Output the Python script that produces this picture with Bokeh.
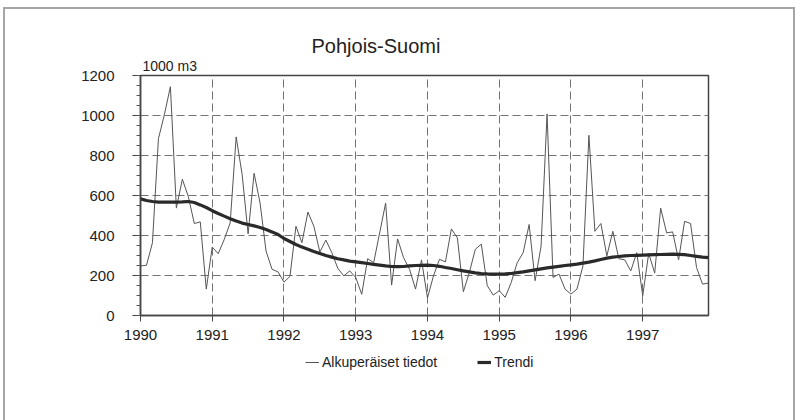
from bokeh.plotting import figure
from bokeh.layouts import column
from bokeh.models import FixedTicker, Range1d, Legend, LegendItem, ColumnDataSource, Title
from bokeh.embed import file_html
from bokeh.resources import INLINE

years = [1990, 1991, 1992, 1993, 1994, 1995, 1996, 1997]
year_labels = ["1990", "1991", "1992", "1993", "1994", "1995", "1996", "1997"]
y_ticks = [0, 200, 400, 600, 800, 1000, 1200]

# monthly values, 1000 m3, Jan 1990 .. Dec 1997
original = [
    248, 251, 364, 884, 1005, 1144, 537, 681, 595, 460, 468, 132,
    342, 309, 380, 463, 893, 705, 408, 711, 562, 322, 231, 218,
    167, 196, 446, 364, 517, 446, 317, 377, 314, 236, 198, 223,
    190, 106, 284, 264, 413, 562, 152, 383, 289, 231, 132, 278,
    88, 198, 281, 268, 433, 388, 119, 215, 331, 357, 149, 102,
    124, 91, 165, 264, 314, 455, 174, 347, 1008, 190, 207, 132,
    107, 132, 248, 901, 421, 460, 298, 421, 284, 278, 223, 314,
    99, 311, 212, 537, 413, 418, 278, 471, 460, 240, 157, 162,
]
trend = [
    583, 575, 570, 567, 567, 567, 567, 568, 570, 565, 553, 540,
    524, 510, 497, 484, 472, 462, 455, 448, 440, 430, 418, 405,
    385, 370, 355, 342, 331, 320, 310, 300, 292, 284, 278, 272,
    268, 264, 260, 256, 252, 248, 245, 244, 245, 248, 250, 251,
    252, 250, 246, 240, 235, 229, 223, 218, 213, 210, 208, 207,
    207, 208, 210, 214, 218, 223, 228, 233, 238, 242, 246, 250,
    253, 257, 262, 267, 273, 280, 287, 292, 295, 298, 300, 301,
    302, 303, 304, 305, 306, 307, 306, 304, 300, 296, 292, 289,
]
t = [1990 + i / 12 for i in range(len(original))]
legend_labels = ["Alkuperäiset tiedot", "Trendi"]

FONT = "Liberation Sans"
ORIG_STYLE = dict(line_color="#555555", line_width=1)
TREND_STYLE = dict(line_color="#2a2a2a", line_width=3.2)

src = ColumnDataSource(dict(t=t, orig=original, trend=trend))

p = figure(frame_width=568, frame_height=240, output_backend="svg", toolbar_location=None,
           x_range=Range1d(1990, t[-1]), y_range=Range1d(0, 1200),
           min_border_left=137, min_border_top=68, min_border_right=87, min_border_bottom=30)
p.border_fill_color = None
p.background_fill_color = "white"
p.outline_line_color = "#444444"
p.outline_line_width = 1.5

p.line("t", "orig", source=src, **ORIG_STYLE)
p.line("t", "trend", source=src, **TREND_STYLE)

xa = p.xaxis[0]
xa.ticker = FixedTicker(ticks=years, minor_ticks=[])
xa.major_label_overrides = {y: l for y, l in zip(years, year_labels)}
xa.major_tick_out = 6
xa.major_tick_in = 0
xa.minor_tick_out = 0
xa.major_label_standoff = 8
ya = p.yaxis[0]
ya.ticker = FixedTicker(ticks=y_ticks, minor_ticks=list(range(0, 1201, 50)))
ya.major_tick_out = 8
ya.major_tick_in = 0
ya.minor_tick_out = 4
ya.minor_tick_in = 0
ya.major_label_standoff = 18
for ax in (xa, ya):
    ax.axis_line_color = "#444444"
    ax.axis_line_width = 1.5
    ax.major_tick_line_color = "#444444"
    ax.minor_tick_line_color = "#555555"
    ax.major_label_text_font = FONT
    ax.major_label_text_font_size = "15px"
    ax.major_label_text_color = "#222222"

for g in (p.xgrid[0], p.ygrid[0]):
    g.grid_line_color = "#737373"
    g.grid_line_dash = "8 4"
    g.grid_line_width = 1
p.xgrid[0].ticker = FixedTicker(ticks=years)
p.ygrid[0].ticker = FixedTicker(ticks=y_ticks)

p.add_layout(Title(text="1000 m3", align="left", offset=2, standoff=4,
                   text_font=FONT, text_font_size="14px", text_font_style="normal",
                   text_color="#222222"), "above")
p.add_layout(Title(text="Pohjois-Suomi", align="left", offset=171, standoff=-6,
                   text_font=FONT, text_font_size="20px", text_font_style="normal",
                   text_color="#222222"), "above")

# legend strip below the chart: same series, plotted out of view, only its legend shows
p2 = figure(width=792, height=75, output_backend="svg", toolbar_location=None,
            x_axis_type=None, y_axis_type=None, min_border=0,
            x_range=Range1d(0, 1), y_range=Range1d(0, 1))
p2.grid.visible = False
p2.outline_line_color = None
p2.border_fill_color = None
p2.background_fill_color = None
k1 = p2.line("t", "orig", source=src, **ORIG_STYLE)
k2 = p2.line("t", "trend", source=src, **TREND_STYLE)
legend = Legend(items=[LegendItem(label=legend_labels[0], renderers=[k1]),
                       LegendItem(label=legend_labels[1], renderers=[k2])],
                orientation="horizontal", location=(165, 50),
                glyph_width=14, glyph_height=16, label_height=16, label_standoff=3,
                spacing=40, padding=0, margin=0,
                border_line_color=None, background_fill_color=None,
                label_text_font=FONT, label_text_font_size="14px", label_text_color="#222222")
p2.add_layout(legend)

lay = column(p, p2, spacing=0)
lay.styles = {"margin-left": "3px", "margin-top": "7px",
              "box-shadow": "inset 2px 0 0 #a6a6a6, inset 0 2px 0 #a6a6a6, inset -2px 0 0 #a6a6a6"}

open("out.html", "w").write(file_html(lay, INLINE))
